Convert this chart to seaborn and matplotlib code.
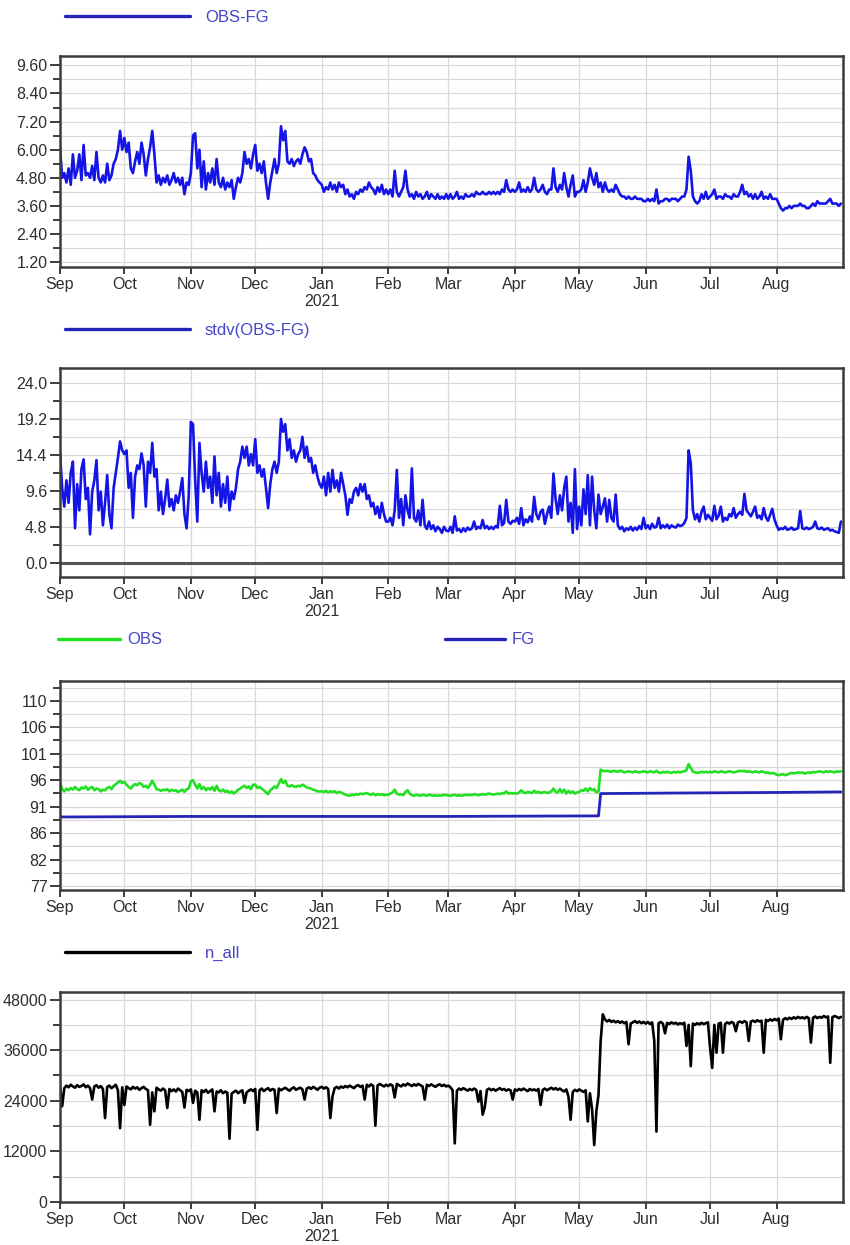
import numpy as np
import pandas as pd
import matplotlib
matplotlib.use("Agg")
import matplotlib.pyplot as plt
import matplotlib.dates as mdates
from matplotlib.ticker import FixedLocator, FuncFormatter, FormatStrFormatter, FixedFormatter
from matplotlib.lines import Line2D
import seaborn as sns

START = "2020-09-01"
END = "2021-08-31"

# OBS-FG (daily, Sep 2020 .. Aug 2021)
obs_fg = [
    6.1, 4.8, 5.0, 4.6, 5.2, 4.5, 5.8, 4.8, 5.1, 5.8, 4.7, 6.2, 4.9, 5.0, 4.8, 5.3, 4.7, 5.9, 4.8, 4.6,
    4.9, 4.6, 5.4, 4.7, 4.9, 5.4, 5.6, 6.0, 6.8, 6.0,
    6.5, 5.9, 6.3, 5.2, 5.0, 5.5, 5.9, 5.4, 6.3, 5.8, 4.9, 5.6, 6.1, 6.8, 5.8, 4.6, 4.9, 4.5, 4.8, 4.6,
    4.9, 4.5, 4.7, 5.0, 4.6, 4.8, 4.5, 4.8, 4.1, 4.6, 4.5,
    5.0, 6.6, 6.7, 5.2, 6.0, 4.4, 5.5, 4.3, 5.0, 4.6, 5.2, 4.5, 5.6, 4.6, 4.4, 4.8, 4.3, 4.6, 4.4, 4.7,
    3.9, 4.4, 4.8, 4.6, 5.0, 5.9, 5.4, 5.6, 5.2, 5.8,
    6.2, 5.1, 5.4, 5.0, 5.5, 4.6, 3.9, 4.6, 5.1, 5.6, 5.0, 5.4, 7.0, 6.4, 6.8, 5.5, 5.4, 5.6, 5.3, 5.5,
    5.6, 5.4, 5.8, 6.1, 5.9, 5.5, 5.6, 5.0, 4.9, 4.7, 4.6,
    4.5, 4.2, 4.4, 4.3, 4.6, 4.3, 4.5, 4.2, 4.6, 4.4, 4.5, 4.1, 4.3, 4.0, 4.1, 3.9, 4.2, 4.1, 4.3, 4.2,
    4.4, 4.3, 4.6, 4.4, 4.3, 4.1, 4.4, 4.2, 4.5, 4.1, 4.3,
    4.1, 4.3, 4.0, 5.1, 4.2, 4.0, 4.2, 4.4, 5.1, 4.3, 4.0, 4.1, 3.9, 4.2, 4.0, 4.1, 3.9, 4.0, 4.2, 3.9,
    4.1, 4.0, 3.9, 4.1, 3.9, 4.0, 3.9, 4.1,
    3.9, 4.1, 3.9, 4.0, 4.2, 3.9, 4.0, 3.9, 4.1, 4.0, 4.0, 4.1, 4.0, 4.2, 4.1, 4.1, 4.2, 4.1, 4.1, 4.2,
    4.1, 4.2, 4.1, 4.2, 4.1, 4.3, 4.2, 4.7, 4.3, 4.2, 4.3,
    4.2, 4.3, 4.6, 4.2, 4.3, 4.2, 4.4, 4.2, 4.3, 4.8, 4.3, 4.2, 4.3, 4.5, 4.2, 4.1, 4.3, 4.3, 5.2, 4.4,
    4.2, 4.5, 4.3, 5.0, 4.4, 4.0, 4.5, 4.9, 4.0, 4.2,
    4.2, 4.3, 4.7, 4.2, 4.6, 5.2, 4.8, 4.5, 5.0, 4.4, 4.6, 4.2, 4.6, 4.3, 4.2, 4.3, 4.2, 4.5, 4.3, 4.1,
    4.0, 4.0, 3.9, 4.0, 3.9, 3.9, 4.0, 3.9, 3.9, 3.9, 3.8,
    3.8, 3.9, 3.8, 3.9, 3.8, 4.3, 3.7, 3.8, 3.8, 3.9, 3.9, 3.8, 3.9, 3.9, 3.9, 3.8, 3.9, 4.0, 4.0, 4.3,
    5.7, 5.1, 4.0, 3.8, 3.7, 3.8, 4.1, 3.9, 4.2, 3.9,
    4.0, 4.1, 4.3, 3.9, 4.0, 4.0, 3.9, 4.1, 4.0, 4.0, 3.9, 4.1, 4.0, 4.0, 4.2, 4.5, 4.1, 4.2, 4.0, 4.1,
    3.9, 4.1, 3.9, 4.0, 4.2, 3.9, 4.0, 3.9, 4.1, 3.9, 3.9,
    3.9, 3.7, 3.5, 3.4, 3.5, 3.5, 3.6, 3.5, 3.6, 3.6, 3.6, 3.7, 3.6, 3.6, 3.5, 3.5, 3.6, 3.7, 3.6, 3.8,
    3.7, 3.7, 3.7, 3.7, 3.8, 3.9, 3.7, 3.7, 3.7, 3.6, 3.7,
]

# stdv(OBS-FG)
stdv_obs_fg = [
    14.8, 10.0, 7.5, 11.0, 8.0, 12.0, 13.5, 4.6, 10.5, 7.0, 12.5, 13.8, 8.5, 10.0, 3.8, 9.5, 11.0, 13.7, 7.0, 9.5,
    5.0, 8.0, 11.7, 6.5, 4.6, 10.0, 12.0, 14.0, 16.2, 15.0,
    14.5, 15.0, 10.0, 12.0, 6.0, 11.5, 13.0, 12.5, 14.6, 13.0, 7.5, 13.5, 12.0, 16.0, 11.5, 12.5, 7.0, 9.5, 6.5, 8.5,
    11.1, 7.5, 8.5, 7.0, 9.0, 8.0, 9.5, 11.3, 6.5, 4.6, 9.0,
    18.8, 18.5, 11.0, 5.5, 16.0, 12.0, 9.5, 13.5, 10.0, 11.5, 8.0, 14.2, 9.0, 12.0, 7.5, 10.5, 8.0, 11.5, 7.0, 9.5,
    8.5, 10.0, 12.5, 13.5, 15.5, 14.0, 15.5, 13.0, 14.5, 13.0,
    16.5, 12.0, 13.0, 11.5, 12.5, 10.0, 7.3, 10.5, 12.5, 13.5, 12.0, 13.5, 19.2, 17.5, 18.5, 15.0, 16.5, 14.0, 15.0, 13.5,
    14.5, 15.0, 16.8, 14.0, 15.5, 13.5, 14.0, 12.0, 13.0, 11.5, 10.5,
    10.0, 11.5, 9.0, 12.0, 9.5, 12.4, 10.0, 11.0, 9.5, 12.0, 10.5, 9.0, 6.4, 8.5, 8.0, 9.5, 10.0, 9.0, 10.5, 9.5,
    10.5, 8.5, 9.0, 7.5, 8.0, 6.5, 7.5, 6.0, 8.0, 6.5, 5.5,
    5.5, 6.0, 5.0, 7.0, 12.4, 6.0, 8.5, 5.0, 9.0, 7.0, 6.0, 12.6, 6.0, 5.5, 7.0, 5.0, 8.4, 5.0, 4.5, 5.5,
    4.5, 5.0, 4.2, 4.8, 4.5, 4.0, 4.8, 4.3,
    4.2, 4.8, 4.0, 6.2, 4.3, 4.5, 4.1, 4.6, 4.2, 4.7, 4.4, 4.6, 5.5, 4.5, 4.8, 4.6, 5.7, 4.6, 4.9, 4.5,
    4.8, 4.5, 4.9, 4.7, 7.6, 5.0, 5.3, 8.4, 5.5, 5.2, 5.6,
    5.5, 6.0, 5.2, 7.3, 5.0, 5.8, 5.4, 6.2, 5.5, 8.8, 6.5, 5.8, 6.8, 7.1, 5.2, 6.5, 7.5, 6.0, 11.9, 8.5,
    6.5, 9.0, 7.0, 10.0, 11.5, 5.5, 8.0, 4.0, 12.5, 4.5,
    7.5, 5.0, 9.8, 6.5, 11.7, 5.0, 11.5, 7.0, 4.6, 9.1, 6.5, 7.5, 8.6, 5.5, 8.4, 6.0, 5.5, 9.1, 5.0, 4.5,
    4.8, 4.2, 4.6, 4.4, 4.8, 4.3, 4.7, 4.4, 4.9, 4.5, 6.0,
    4.6, 5.0, 4.5, 5.2, 4.7, 4.8, 6.0, 4.6, 5.0, 4.7, 5.1, 4.6, 5.0, 4.8, 4.7, 5.1, 4.9, 5.0, 5.3, 6.0,
    15.0, 13.3, 7.0, 5.8, 6.5, 5.5, 6.8, 7.5, 5.8, 6.4,
    6.0, 5.6, 7.6, 5.8, 6.3, 7.5, 5.5, 6.0, 5.7, 6.5, 6.2, 7.3, 6.0, 6.5, 6.8, 6.4, 9.2, 7.0, 6.6, 6.2,
    6.8, 7.5, 6.0, 6.3, 5.8, 7.3, 6.1, 5.6, 6.4, 7.2, 5.8,
    5.0, 4.4, 4.6, 4.5, 4.8, 4.4, 4.5, 4.7, 4.4, 4.5, 4.6, 6.9, 4.6, 4.5, 4.7, 4.5, 4.6, 4.8, 5.5, 4.6,
    4.5, 4.7, 4.4, 4.5, 4.6, 4.3, 4.4, 4.2, 4.1, 4.0, 5.5,
]

# OBS
obs = [
    95.6, 94.4, 94.0, 94.5, 94.2, 94.6, 94.3, 94.8, 94.4, 94.2, 94.7, 94.5, 94.9, 94.3, 94.6, 94.8, 94.2, 94.5, 94.4, 94.0,
    94.3, 94.2, 94.6, 94.8, 94.4, 95.0, 95.3, 95.6, 95.9, 95.5,
    95.7, 95.2, 94.8, 94.5, 95.0, 95.3, 95.1, 95.5, 95.3, 94.8, 95.0, 94.6, 95.2, 95.9, 95.2, 94.4, 94.3, 94.1, 94.3, 94.2,
    94.4, 94.0, 94.3, 94.1, 94.2, 93.9, 94.1, 94.3, 93.9, 94.4, 94.5,
    95.8, 96.0, 95.2, 94.5, 95.3, 94.4, 94.8, 94.2, 94.6, 94.3, 94.8, 94.1, 95.0, 94.2, 94.0, 94.3, 93.9, 94.1, 93.7, 94.0,
    93.6, 93.9, 94.3, 94.5, 94.8, 95.0, 94.6, 94.9, 94.4, 95.2,
    95.2, 94.6, 94.8, 94.5, 94.2, 93.8, 93.5, 94.2, 94.5, 94.9, 94.6, 95.4, 96.2, 95.5, 95.9, 95.0, 94.9, 95.1, 94.9, 94.8,
    95.0, 94.9, 95.2, 95.0, 94.7, 94.6, 94.5, 94.3, 94.2, 94.0, 94.0,
    94.0, 93.9, 94.1, 93.8, 94.0, 93.9, 94.0, 93.7, 93.9, 93.8, 93.6, 93.4, 93.3, 93.2, 93.4, 93.3, 93.5, 93.4, 93.6, 93.5,
    93.6, 93.7, 93.5, 93.4, 93.6, 93.3, 93.5, 93.4, 93.5, 93.3, 93.4,
    93.4, 93.6, 93.8, 94.3, 93.6, 93.4, 93.5, 93.3, 93.9, 94.2, 93.6, 93.3, 93.2, 93.4, 93.3, 93.2, 93.4, 93.3, 93.2, 93.4,
    93.3, 93.2, 93.3, 93.2, 93.3, 93.2, 93.4, 93.3,
    93.3, 93.2, 93.3, 93.4, 93.2, 93.3, 93.2, 93.3, 93.4, 93.3, 93.4, 93.3, 93.5, 93.4, 93.3, 93.4, 93.5, 93.4, 93.5, 93.6,
    93.5, 93.4, 93.5, 93.6, 93.5, 93.7, 93.6, 94.0, 93.6, 93.7, 93.6,
    93.7, 93.6, 93.8, 94.2, 93.8, 93.7, 93.9, 93.8, 93.7, 94.1, 93.8, 93.9, 93.7, 93.8, 93.9, 93.7, 93.8, 94.0, 94.5, 93.9,
    93.8, 94.4, 93.8, 94.3, 93.6, 94.1, 93.7, 94.0, 93.6, 93.8,
    93.9, 94.2, 94.1, 94.5, 94.0, 94.6, 94.2, 94.4, 93.8, 94.0, 97.9, 97.7, 97.6, 97.7, 97.6, 97.5, 97.7, 97.6, 97.5, 97.7,
    97.6, 97.4, 97.5, 97.6, 97.5, 97.4, 97.6, 97.5, 97.4, 97.5, 97.6,
    97.5, 97.4, 97.6, 97.5, 97.4, 97.7, 97.4, 97.3, 97.5, 97.4, 97.5, 97.4, 97.3, 97.5, 97.4, 97.5, 97.4, 97.5, 97.6, 97.8,
    98.9, 98.2, 97.5, 97.4, 97.3, 97.4, 97.5, 97.4, 97.5, 97.4,
    97.5, 97.4, 97.6, 97.5, 97.4, 97.6, 97.5, 97.4, 97.5, 97.6, 97.5, 97.4, 97.5, 97.6, 97.7, 97.6, 97.7, 97.5, 97.6, 97.5,
    97.4, 97.6, 97.5, 97.4, 97.6, 97.5, 97.3, 97.4, 97.2, 97.3, 97.2,
    97.0, 96.9, 97.0, 97.1, 96.9, 97.0, 97.2, 97.3, 97.2, 97.3, 97.4, 97.3, 97.4, 97.2, 97.3, 97.4, 97.3, 97.5, 97.4, 97.5,
    97.6, 97.5, 97.4, 97.6, 97.5, 97.6, 97.5, 97.4, 97.6, 97.5, 97.6,
]

# FG (nearly constant, one step in May)
fg_dates = ["2020-09-01", "2020-11-01", "2021-01-01", "2021-03-01", "2021-05-10",
            "2021-05-11", "2021-06-15", "2021-08-01", "2021-08-31"]
fg = [89.4, 89.5, 89.5, 89.5, 89.6, 93.6, 93.7, 93.8, 93.9]

# n_all
n_all = [
    27500, 22700, 27000, 27600, 27200, 27800, 27400, 27100, 27700, 27300, 27500, 27900, 27200, 27600, 27000, 24300, 27400, 27700, 27100, 27500,
    26800, 19900, 27300, 27600, 27000, 27400, 27800, 26500, 17500, 27200,
    23000, 27400, 27000, 26700, 27300, 26900, 27200, 26600, 27000, 27300, 26800, 26500, 18300, 26000, 21500, 27100, 26700, 26400, 26900, 26500,
    22300, 26800, 26300, 26700, 26200, 26900, 26500, 26100, 22400, 26600, 26300,
    26700, 23500, 26400, 26000, 19500, 26500, 26100, 26600, 25900, 26300, 26700, 21500, 26200, 26000, 26500, 25800, 26200, 25900, 15000, 25700,
    26100, 26400, 25800, 26200, 26500, 23500, 26000, 26400, 26700, 26300,
    26800, 17100, 26500, 26900, 26300, 26700, 27000, 26400, 26800, 26600, 21100, 26900, 26500, 26800, 27100, 26700, 26400, 26900, 27200, 26600,
    26900, 27100, 26700, 24300, 26900, 27200, 26800, 27300, 27000, 26600, 27100,
    27300, 26900, 27200, 26800, 19900, 25000, 27000, 27300, 26900, 27400, 27100, 27500, 27200, 27600, 27300, 27000, 27500, 27700, 27300, 27600,
    24300, 27800, 27400, 27900, 27500, 18100, 27600, 28000, 27700, 27400, 27800,
    27500, 27900, 27600, 24800, 28000, 27700, 27400, 27900, 27600, 28100, 27800, 27500, 27900, 27600, 28000, 27700, 27400, 24300, 27800, 27500,
    27900, 27600, 27300, 27700, 27900, 27500, 27800, 27400,
    27600, 27200, 26500, 13900, 26400, 26900, 26600, 27000, 26700, 26400, 26800, 26500, 26900, 26600, 23800, 26300, 20700, 22500, 26600, 26900,
    26500, 26800, 26400, 26700, 27000, 26600, 26800, 26400, 26700, 26500, 24300,
    26700, 26400, 26800, 26500, 26900, 26600, 26300, 26800, 26500, 26700, 26400, 26800, 23000, 26600, 26900, 26500, 26800, 27100, 26700, 27000,
    26600, 26900, 26500, 26200, 26700, 25000, 19500, 26100, 26600, 26300,
    26700, 26400, 26100, 26500, 19100, 25800, 22000, 13500, 21500, 25400, 38200, 44500, 43300, 42800, 43200, 42700, 43000, 42600, 42900, 42500,
    42800, 42400, 42700, 37400, 42300, 42600, 42900, 42500, 42800, 42400, 42700,
    42300, 42700, 42200, 42600, 38200, 16700, 42400, 42700, 42300, 40000, 42500, 42200, 42600, 42300, 42500, 42100, 42400, 42200, 42500, 37000,
    42000, 32200, 42300, 42000, 42400, 42100, 42500, 42200, 42400, 42600,
    36600, 31800, 42000, 35400, 42300, 42500, 35400, 42200, 42600, 42300, 42700, 42400, 40500, 42600, 42800, 42500, 42900, 42600, 38200, 42800,
    43000, 42700, 43100, 42800, 43000, 35400, 43200, 42900, 43300, 43000, 43400,
    43100, 43500, 38600, 43200, 43600, 43300, 43700, 43400, 43800, 43500, 43900, 43600, 43800, 43500, 43900, 43600, 37800, 43700, 44000, 43600,
    43900, 43700, 44100, 43800, 44000, 33000, 43800, 44100, 43900, 43600, 43900,
]

# axis tick labels
p1_ticks = [1.2, 2.4, 3.6, 4.8, 6.0, 7.2, 8.4, 9.6]
p2_ticks = [0.0, 4.8, 9.6, 14.4, 19.2, 24.0]
p3_ticks = [77.0, 81.75, 86.5, 91.25, 96.0, 100.75, 105.5, 110.25]
p3_labels = ["77", "82", "86", "91", "96", "101", "106", "110"]
p4_ticks = [0, 12000, 24000, 36000, 48000]

sns.set_theme(style="white")
plt.rcParams["font.family"] = ["Liberation Sans", "DejaVu Sans"]

W, H = 850, 1245
fig = plt.figure(figsize=(W / 100, H / 100), dpi=100)


def px_axes(top, bottom, left=60, right=843):
    return fig.add_axes([left / W, 1 - bottom / H, (right - left) / W, (bottom - top) / H])


def daily(vals):
    return pd.date_range(START, END, periods=len(vals))


def month_label(x, pos):
    d = mdates.num2date(x)
    s = d.strftime("%b")
    if d.month == 1:
        s += "\n%d" % d.year
    return s


EDGE = "#3c3c3c"
GRID = "#d9d9d9"
LEG_TXT = "#4545c8"


def style(ax, ticks, ylim, minor):
    ax.set_xlim(pd.Timestamp("2020-09-01"), pd.Timestamp("2021-08-31 23:00"))
    ax.set_ylim(*ylim)
    ax.xaxis.set_major_locator(mdates.MonthLocator())
    ax.xaxis.set_major_formatter(FuncFormatter(month_label))
    ax.yaxis.set_major_locator(FixedLocator(ticks))
    ax.yaxis.set_minor_locator(FixedLocator(minor))
    ax.grid(True, which="both", axis="y", color=GRID, lw=0.9)
    ax.grid(True, which="major", axis="x", color=GRID, lw=0.9)
    ax.set_axisbelow(True)
    for s in ax.spines.values():
        s.set_visible(True)
        s.set_color(EDGE)
        s.set_linewidth(1.8)
    ax.tick_params(axis="y", which="major", direction="out", length=7.5, width=1.4,
                   color=EDGE, labelsize=11.5, labelcolor="#2e2e2e", pad=1.5, left=True)
    ax.tick_params(axis="y", which="minor", direction="out", length=5, width=1.4, color=EDGE, left=True)
    ax.tick_params(axis="x", which="major", direction="out", length=5, width=1.4,
                   color=EDGE, labelsize=11.5, labelcolor="#2e2e2e", pad=2, bottom=True)
    ax.set_xlabel("")
    ax.set_ylabel("")


def legend_at(handles, labels, x0, y0, hl, tp):
    fig.legend(handles, labels, loc="center left", bbox_to_anchor=(x0 / W, 1 - y0 / H),
               frameon=False, borderpad=0, borderaxespad=0, handlelength=hl, handletextpad=tp,
               fontsize=12, labelcolor=LEG_TXT)


BLUE = "#1414e6"
NAVY = "#2424b8"
GREEN = "#22e022"
BLACK = "#000000"
LW = 1.9

# Panel 1: OBS-FG
ax1 = px_axes(56, 267)
df1 = pd.DataFrame({"date": daily(obs_fg), "val": obs_fg})
sns.lineplot(data=df1, x="date", y="val", ax=ax1, color=BLUE, lw=LW, legend=False)
style(ax1, p1_ticks, (0.99, 10.0), np.arange(1.8, 9.5, 1.2))
ax1.yaxis.set_major_formatter(FormatStrFormatter("%.2f"))
legend_at([Line2D([], [], color=NAVY, lw=2.4)], ["OBS-FG"], 65, 17, 7.5, 0.9)

# Panel 2: stdv(OBS-FG)
ax2 = px_axes(368, 577)
df2 = pd.DataFrame({"date": daily(stdv_obs_fg), "val": stdv_obs_fg})
ax2.axhline(0, color="#555555", lw=2.2, zorder=1)
sns.lineplot(data=df2, x="date", y="val", ax=ax2, color=BLUE, lw=LW, legend=False)
style(ax2, p2_ticks, (-1.9, 26.0), np.arange(2.4, 25.0, 4.8))
ax2.yaxis.set_major_formatter(FormatStrFormatter("%.1f"))
legend_at([Line2D([], [], color=NAVY, lw=2.4)], ["stdv(OBS-FG)"], 65, 330, 7.5, 0.9)

# Panel 3: OBS and FG
ax3 = px_axes(681, 890)
df3 = pd.DataFrame({"date": daily(obs), "val": obs})
df3b = pd.DataFrame({"date": pd.to_datetime(fg_dates), "val": fg})
sns.lineplot(data=df3b, x="date", y="val", ax=ax3, color=NAVY, lw=2.0, legend=False)
sns.lineplot(data=df3, x="date", y="val", ax=ax3, color=GREEN, lw=LW, legend=False)
p3_minor = [(a + b) / 2 for a, b in zip(p3_ticks[:-1], p3_ticks[1:])] + [p3_ticks[-1] + 2.375]
style(ax3, p3_ticks, (76.3, 113.8), p3_minor)
ax3.yaxis.set_major_formatter(FixedFormatter(p3_labels))
legend_at([Line2D([], [], color=GREEN, lw=2.4)], ["OBS"], 58, 640, 3.7, 0.45)
legend_at([Line2D([], [], color=NAVY, lw=2.4)], ["FG"], 445, 640, 3.6, 0.42)

# Panel 4: n_all
ax4 = px_axes(992, 1202)
df4 = pd.DataFrame({"date": daily(n_all), "val": n_all})
sns.lineplot(data=df4, x="date", y="val", ax=ax4, color=BLACK, lw=LW, legend=False)
style(ax4, p4_ticks, (0, 49800), [6000, 18000, 30000, 42000])
ax4.yaxis.set_major_formatter(FormatStrFormatter("%d"))
legend_at([Line2D([], [], color=BLACK, lw=2.4)], ["n_all"], 65, 953, 7.5, 0.9)

fig.savefig("out.png", dpi=100, facecolor="white")
